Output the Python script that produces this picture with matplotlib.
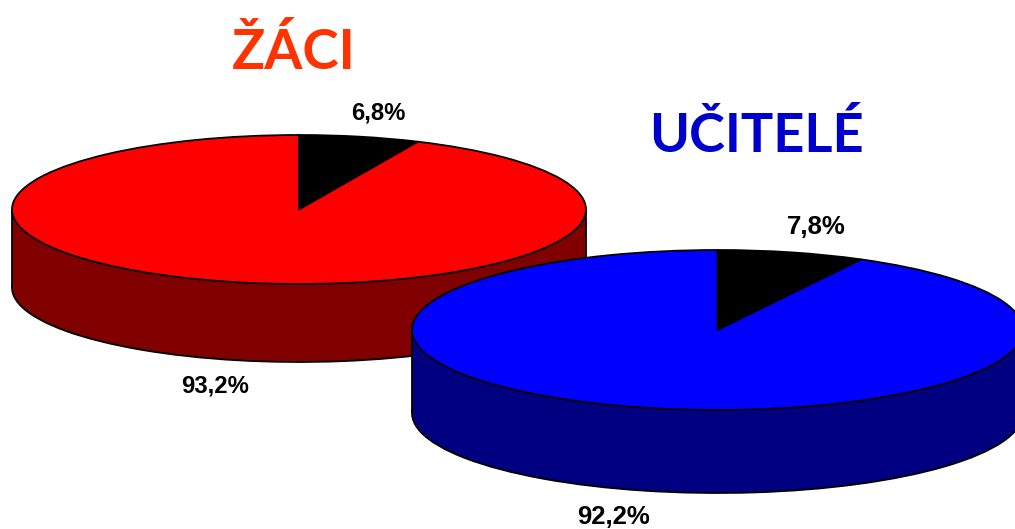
import matplotlib
matplotlib.use("Agg")
from matplotlib import pyplot as plt

W, H = 1015, 529

zaci_values = [6.8, 93.2]
ucitele_values = [7.8, 92.2]
zaci_labels = ["6,8%", "93,2%"]
ucitele_labels = ["7,8%", "92,2%"]


def draw_pie(box, depth_px, values, top_colors, side_color):
    # box = left, top, right, bottom of the top ellipse, in pixels
    left, top, right, bottom = box
    ax = fig.add_axes([left / W, 1 - bottom / H, (right - left) / W, (bottom - top) / H])
    depth = depth_px / ((bottom - top) / 2)

    # side wall first: lower pie, then a band to hide its upper half
    ax.pie(values, colors=[side_color, side_color], startangle=90, counterclock=False,
           center=(0, -depth), radius=1, wedgeprops=dict(edgecolor="black", linewidth=1.3, clip_on=False))
    ax.fill_between([-1, 1], -depth, 0, color=side_color, linewidth=0, clip_on=False, zorder=2)
    ax.vlines([-1, 1], -depth, 0, color="black", linewidth=1.3, clip_on=False, zorder=3)

    wedges, _ = ax.pie(values, colors=top_colors, startangle=90, counterclock=False,
                       radius=1, wedgeprops=dict(edgecolor="black", linewidth=1.3, clip_on=False))
    for w in wedges:
        w.set_zorder(4)

    ax.set_aspect("auto")
    ax.set_xlim(-1, 1)
    ax.set_ylim(-1, 1)
    ax.axis("off")
    return ax


def px_text(x, y, s, **kw):
    fig.text(x / W, 1 - y / H, s, ha="center", va="baseline", **kw)


fig = plt.figure(figsize=(W / 100, H / 100), dpi=100)

draw_pie((12, 135, 586, 284), 78, zaci_values, ["black", "#ff0000"], "#800000")
draw_pie((412, 250, 1023, 410), 83, ucitele_values, ["black", "#0000ff"], "#000080")

zaci_font = dict(family="Liberation Sans", fontweight="bold", fontsize=17.2, color="black")
ucitele_font = dict(family="Liberation Sans", fontweight="bold", fontsize=18.5, color="black")
px_text(378, 120, zaci_labels[0], **zaci_font)
px_text(215, 393, zaci_labels[1], **zaci_font)
px_text(816, 234, ucitele_labels[0], **ucitele_font)
px_text(614, 524, ucitele_labels[1], **ucitele_font)

px_text(294, 69, "ŽÁCI", family="Lato", fontweight="bold", fontsize=39.5, color="#ff3300")
px_text(756, 152, "UČITELÉ", family="Lato", fontweight="bold", fontsize=39, color="#0000cc")

plt.savefig("out.png", dpi=100)
